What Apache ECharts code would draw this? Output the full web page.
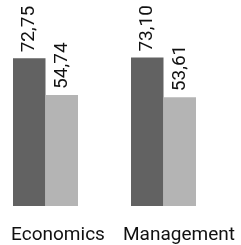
<!DOCTYPE html>
<html><head><meta charset="utf-8">
<script src="https://cdn.jsdelivr.net/npm/echarts@6/dist/echarts.min.js"></script>
<style>html,body{margin:0;padding:0;background:#fff}#c{width:241px;height:245px}</style>
</head><body><div id="c"></div>
<script>
const categories = ['Economics', 'Management'];
const seriesA = [72.75, 73.10];
const seriesB = [54.74, 53.61];
const FONT = 'Roboto, sans-serif';
const chart = echarts.init(document.getElementById('c'), null, {renderer: 'canvas'});
const fmt = p => p.value.toFixed(2).replace('.', ',');
const lbl = {show: true, position: 'top', rotate: 90, align: 'left', verticalAlign: 'middle', distance: 6, formatter: fmt, fontFamily: FONT, fontSize: 19, color: '#111'};
chart.setOption({
  animation: false,
  grid: {left: -13.5, width: 236, top: 3, bottom: 39, containLabel: false, outerBoundsMode: 'none'},
  xAxis: {type: 'category', data: categories,
    axisLine: {show: false}, axisTick: {show: false},
    axisLabel: {interval: 0, hideOverlap: false, margin: 20, fontFamily: FONT, fontSize: 19, color: '#111',
      formatter: (v, i) => i === 0 ? '{a|' + v + '}' : '{b|' + v + '}',
      rich: {a: {padding: [0, 0, 0, 25], fontFamily: FONT, fontSize: 19, color: '#111'},
             b: {padding: [0, 0, 0, 31], fontFamily: FONT, fontSize: 19, color: '#111'}}}},
  yAxis: {type: 'value', min: 0, max: 100, show: false, splitLine: {show: false}},
  series: [
    {type: 'bar', data: seriesA, barWidth: 32.5, barGap: '0%', itemStyle: {color: '#626262'}, label: lbl},
    {type: 'bar', data: seriesB, barWidth: 32.5, barGap: '0%', itemStyle: {color: '#b4b4b4'}, label: lbl}
  ]
});
</script></body></html>
